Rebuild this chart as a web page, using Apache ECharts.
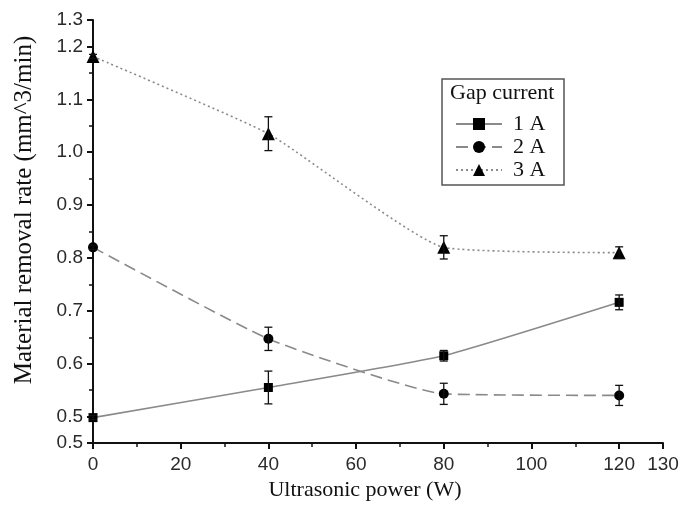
<!DOCTYPE html>
<html>
<head>
<meta charset="utf-8">
<script src="https://cdn.jsdelivr.net/npm/echarts@6/dist/echarts.min.js"></script>
<style>
  html, body { margin: 0; padding: 0; background: #fff; }
  #main { width: 694px; height: 508px; }
</style>
</head>
<body>
<div id="main"></div>
<script>
// x positions (W)
const power = [0, 40, 80, 120];
// material removal rate, with error bar half-widths
const rate1A = [0.498, 0.555, 0.615, 0.716];
const err1A = [0.004, 0.031, 0.01, 0.014];
const rate2A = [0.82, 0.647, 0.543, 0.540];
const err2A = [0.004, 0.022, 0.02, 0.019];
const rate3A = [1.181, 1.035, 0.820, 0.810];
const err3A = [0.004, 0.032, 0.022, 0.011];

const xTicks = [0, 20, 40, 60, 80, 100, 120, 130];
const yTicks = [0.45, 0.5, 0.6, 0.7, 0.8, 0.9, 1.0, 1.1, 1.2, 1.25];

const serif = 'Liberation Serif';
const sans = 'Liberation Sans';

const chart = echarts.init(document.getElementById('main'));

function pairs(ys) {
    return power.map((x, i) => [x, ys[i]]);
}

// error bars as custom series
function errBars(ys, es) {
    return {
        type: 'custom',
        silent: true,
        z: 5,
        data: power.map((x, i) => [x, ys[i] - es[i], ys[i] + es[i]]),
        renderItem: function (params, api) {
            const lo = api.coord([api.value(0), api.value(1)]);
            const hi = api.coord([api.value(0), api.value(2)]);
            const w = 4;
            const st = { stroke: '#111', lineWidth: 1.3 };
            return {
                type: 'group',
                children: [
                    { type: 'line', shape: { x1: lo[0], y1: lo[1], x2: hi[0], y2: hi[1] }, style: st },
                    { type: 'line', shape: { x1: lo[0] - w, y1: lo[1], x2: lo[0] + w, y2: lo[1] }, style: st },
                    { type: 'line', shape: { x1: hi[0] - w, y1: hi[1], x2: hi[0] + w, y2: hi[1] }, style: st }
                ]
            };
        }
    };
}

function lineSeries(name, ys, symbol, size, dash) {
    return {
        name: name,
        type: 'line',
        data: pairs(ys),
        symbol: symbol,
        symbolSize: size,
        smooth: 0.15,
        z: 4,
        itemStyle: { color: '#000' },
        lineStyle: { color: '#8a8a8a', width: 1.6, type: dash }
    };
}

const option = {
    backgroundColor: '#fff',
    animation: false,
    grid: { left: 93, right: 31, top: 20, bottom: 65 },
    xAxis: {
        type: 'value',
        min: 0,
        max: 130,
        interval: 20,
        axisLine: { lineStyle: { color: '#111', width: 2 } },
        axisTick: { length: 6, lineStyle: { color: '#111', width: 2 }, customValues: xTicks },
        minorTick: { show: true, splitNumber: 2, length: 4, lineStyle: { color: '#111', width: 1.5 } },
        axisLabel: {
            customValues: xTicks,
            fontFamily: sans, fontSize: 19, color: '#2a2a2a', margin: 12
        },
        splitLine: { show: false }
    },
    yAxis: {
        type: 'value',
        min: 0.45,
        max: 1.25,
        splitNumber: 8,
        axisLine: { show: true, lineStyle: { color: '#111', width: 2 } },
        axisTick: { show: true, length: 6, lineStyle: { color: '#111', width: 2 }, customValues: yTicks },
        minorTick: { show: true, splitNumber: 2, length: 4, lineStyle: { color: '#111', width: 1.5 } },
        axisLabel: {
            customValues: yTicks,
            formatter: v => v.toFixed(1),
            fontFamily: sans, fontSize: 19, color: '#2a2a2a', margin: 10
        },
        splitLine: { show: false }
    },
    legend: {
        orient: 'vertical',
        left: 450,
        top: 108,
        itemWidth: 46,
        itemHeight: 15,
        itemGap: 1,
        data: ['1 A', '2 A', '3 A'],
        textStyle: { fontFamily: serif, fontSize: 22, color: '#111', padding: [0, 0, 0, 6] }
    },
    graphic: [
        {
            type: 'rect',
            shape: { x: 442, y: 79, width: 122, height: 106 },
            style: { fill: 'none', stroke: '#555', lineWidth: 1.5 }
        },
        {
            type: 'text',
            x: 450,
            y: 82,
            style: { text: 'Gap current', fontFamily: serif, fontSize: 22, fill: '#111' }
        },
        {
            type: 'text',
            x: 365,
            y: 490,
            style: {
                text: 'Ultrasonic power (W)', fontFamily: serif, fontSize: 22, fill: '#111',
                align: 'center', verticalAlign: 'middle'
            }
        },
        {
            type: 'text',
            x: 24,
            y: 210,
            rotation: Math.PI / 2,
            style: {
                text: 'Material removal rate (mm^3/min)', fontFamily: serif, fontSize: 25, fill: '#111',
                align: 'center', verticalAlign: 'middle'
            }
        }
    ],
    series: [
        lineSeries('1 A', rate1A, 'rect', 9, 'solid'),
        lineSeries('2 A', rate2A, 'circle', 10, [12, 6]),
        lineSeries('3 A', rate3A, 'triangle', 13, [2, 3]),
        errBars(rate1A, err1A),
        errBars(rate2A, err2A),
        errBars(rate3A, err3A)
    ]
};

chart.setOption(option);
</script>
</body>
</html>
